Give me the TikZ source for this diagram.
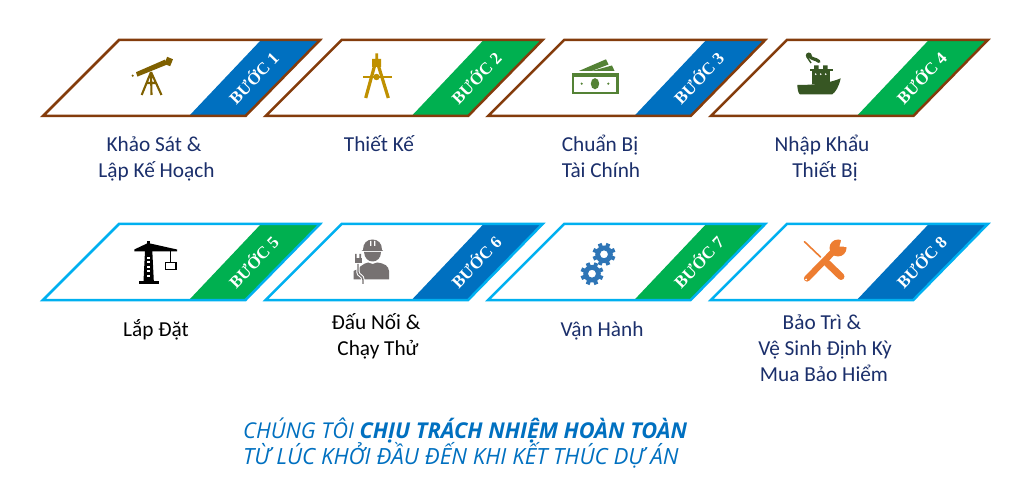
\documentclass[tikz,border=0pt]{standalone}
\usepackage{fontspec}
\setmainfont{Carlito}
\newfontfamily\bandfont{Liberation Serif}
\newfontfamily\noticefont{Open Sans}
\definecolor{brownline}{HTML}{843C0C}
\definecolor{cyanline}{HTML}{00B0F0}
\definecolor{bandblue}{HTML}{0070C0}
\definecolor{bandgreen}{HTML}{00B050}
\definecolor{navytext}{HTML}{1B2F6B}
\definecolor{scopegold}{HTML}{7F6000}
\definecolor{compassgold}{HTML}{BF9000}
\definecolor{moneygreen}{HTML}{548235}
\definecolor{shipgreen}{HTML}{375623}
\definecolor{workergrey}{HTML}{767171}
\definecolor{gearblue}{HTML}{2E75B6}
\definecolor{toolorange}{HTML}{ED7D31}
\newcommand{\stepcard}[6]{% x, top y, line, band, number, name
  \fill[#4] (#1+146,#2+76) -- (#1+218,#2) -- (#1+277,#2) -- (#1+202.5,#2+76) -- cycle;
  \draw[#3,line width=2.5pt,line join=miter] (#1,#2+76) -- (#1+76,#2) -- (#1+277,#2) -- (#1+202.5,#2+76) -- cycle;
  \node[bandtext] (#6) at (#1+210,#2+37.5) {BƯỚC #5};
}
\tikzset{
  bandtext/.style={rotate=46,text=white,inner sep=0pt,font=\bandfont\bfseries\fontsize{17}{17}\selectfont},
  steplabel/.style={anchor=base,inner sep=0pt,font=\fontsize{21.3}{21.3}\selectfont},
  notice/.style={anchor=base west,inner sep=0pt,text=bandblue,font=\noticefont\itshape\fontsize{21.8}{21.8}\selectfont},
}
\begin{document}
\begin{tikzpicture}[x=1pt,y=-1pt]
\useasboundingbox (0,0) rectangle (1024,502);
\fill[white] (0,0) rectangle (1024,502);
\stepcard{43}{40}{brownline}{bandblue}{1}{b1}
\stepcard{265.6}{40}{brownline}{bandgreen}{2}{b2}
\stepcard{488.2}{40}{brownline}{bandblue}{3}{b3}
\stepcard{710.8}{40}{brownline}{bandgreen}{4}{b4}
\stepcard{43}{224}{cyanline}{bandgreen}{5}{b5}
\stepcard{265.6}{224}{cyanline}{bandblue}{6}{b6}
\stepcard{488.2}{224}{cyanline}{bandgreen}{7}{b7}
\stepcard{710.8}{224}{cyanline}{bandblue}{8}{b8}
% labels
\begin{scope}[text=navytext]
\node[steplabel] (l1a) at (154,152) {Khảo Sát \&};
\node[steplabel] (l1b) at (156.5,178) {Lập Kế Hoạch};
\node[steplabel] (l2a) at (379,152) {Thiết Kế};
\node[steplabel] (l3a) at (600,152) {Chuẩn Bị};
\node[steplabel] (l3b) at (601,178) {Tài Chính};
\node[steplabel] (l4a) at (822,152) {Nhập Khẩu};
\node[steplabel] (l4b) at (825,178) {Thiết Bị};
\node[steplabel] (l7a) at (602,336) {Vận Hành};
\node[steplabel] (l8a) at (822,329) {Bảo Trì \&};
\node[steplabel] (l8b) at (825,355) {Vệ Sinh Định Kỳ};
\node[steplabel] (l8c) at (824,381) {Mua Bảo Hiểm};
\end{scope}
\begin{scope}[text=black]
\node[steplabel] (l5a) at (156,336) {Lắp Đặt};
\node[steplabel] (l6a) at (376,329) {Đấu Nối \&};
\node[steplabel] (l6b) at (378,355) {Chạy Thử};
\end{scope}
\node[notice] (n1) at (243,438) {CHÚNG TÔI \textbf{CHỊU TRÁCH NHIỆM HOÀN TOÀN}};
\node[notice,font=\noticefont\itshape\fontsize{22.3}{22.3}\selectfont] (n2) at (243,464) {TỪ LÚC KHỞI ĐẦU ĐẾN KHI KẾT THÚC DỰ ÁN};
% telescope
\fill[scopegold] (136,72.2) -- (165,59.6) -- (167,64.6) -- (137.4,76.6) -- cycle;
\fill[scopegold,rotate around={-22:(168.5,61.5)}] (165.5,57.7) rectangle (171.8,65.3);
\fill[scopegold] (132.7,75.7) circle (1.2);
\draw[scopegold,line width=2.1pt] (151,72) -- (141.7,95) (151,72) -- (161.5,95) (151,72) -- (151.5,95) (146,83) -- (156.5,83);
% compass
\fill[compassgold] (375.3,53.5) rectangle (378.1,60) (372,59) rectangle (381,67);
\draw[compassgold,line width=3.2pt] (374.5,66) -- (365.7,98) (378.5,66) -- (388.3,98);
\draw[compassgold,line width=2pt] (363,76.7) -- (391.7,76.7);
\fill[compassgold] (376.5,77) circle (3.2);
% money
\fill[moneygreen] (571.7,73.3) rectangle (618.5,94.5);
\fill[white] (574.3,76.7) rectangle (615.9,91.8);
\fill[moneygreen] (595,83.7) ellipse (4.2 and 5.6) (581.7,83.7) circle (1.2) (608.3,83.7) circle (1.2);
\fill[moneygreen] (579,70.9) -- (606,59.3) -- (608.5,64.5) -- (592,70.9) -- cycle;
\fill[moneygreen] (592,70.9) -- (612,65.5) -- (614.5,70.9) -- cycle;
% ship
\fill[shipgreen] (797.3,85) .. controls (815,85) and (830,83) .. (840.7,78.3) .. controls (839,86) and (836,92) .. (832,94.5) -- (800,94.5) .. controls (798,93) and (797.5,89) .. (797.3,85) -- cycle;
\fill[shipgreen] (811.5,70) rectangle (830,84);
\fill[shipgreen] (810,69) rectangle (833,71.5);
\fill[shipgreen] (814,65.5) rectangle (818.5,70) (823,65.5) rectangle (827.5,70);
\fill[white] (815.7,74.2) circle (0.95) (820.7,74.2) circle (0.95) (825.7,74.2) circle (0.95);
\fill[shipgreen] (808.8,55.5) circle (3);
\draw[shipgreen,line width=3.2pt,line cap=round] (809,55.5) .. controls (812,60) and (815,58) .. (819,61.5);
\draw[shipgreen,line width=1.4pt] (807,57) -- (811,63);
% crane
\fill[black] (147.2,241) rectangle (149.8,247);
\fill[black] (134.3,249.5) -- (148,243) -- (177,249.5) -- (177,251.5) -- (134.3,251.5) -- cycle;
\fill[black] (145,251) -- (152.3,251) -- (153.8,281) -- (143.5,281) -- cycle;
\foreach \ly in {257,261.5,266,270.5,275}{\fill[white] (147,\ly) rectangle (150.3,\ly+1.8);}
\fill[black] (138.5,281) rectangle (159,284);
\fill[black] (169.5,251) rectangle (170.7,262);
\draw[black,line width=1.8pt] (165.5,262.5) rectangle (176,269.5);
% worker
\fill[workergrey] (353.5,279.5) -- (353.5,271) .. controls (357,271) and (358,268) .. (361,266) .. controls (363,264) and (366,263) .. (368,262.5) -- (372.5,264) -- (377,262.5) .. controls (385,263.5) and (388.5,266) .. (389,271) -- (389,279.5) -- cycle;
\fill[workergrey] (364,252) -- (381,252) .. controls (381,258) and (377,261.5) .. (372.5,261.5) .. controls (368,261.5) and (364.5,258) .. (364,252) -- cycle;
\fill[workergrey] (361.5,251) -- (363,250) .. controls (363,243) and (367,239.5) .. (372.5,239.5) .. controls (378,239.5) and (382,243) .. (382,250) -- (383,251) -- cycle;
\fill[white] (370,241) rectangle (371.3,246) (374,241) rectangle (375.3,246);
\draw[white,line width=3.4pt] (358,262) -- (358,272) .. controls (358,276) and (363,275) .. (363,280) -- (363,285);
\draw[workergrey,line width=1.4pt] (358,264) -- (358,272) .. controls (358,276) and (363,275) .. (363,280) -- (363,284);
\fill[workergrey] (354.5,258) rectangle (361.5,263);
\fill[workergrey] (355,254) rectangle (356.6,258.5) (359.4,254) rectangle (361,258.5);
% gears
\foreach \gx/\gy in {604/254.3,592/273.7}{
  \foreach \ga in {0,45,...,315}{
    \fill[gearblue,shift={(\gx,\gy)},rotate=\ga+22.5] (-2,-11.5) rectangle (2,-7);
  }
  \fill[gearblue,even odd rule] (\gx,\gy) circle (8.8) (\gx,\gy) circle (4);
}
% tools
\draw[toolorange,line width=7pt,line cap=round] (841,276.5) -- (827,263);
\draw[toolorange,line width=1.6pt,line cap=round] (804.5,241.7) -- (820.5,257);
\draw[toolorange,line width=6.2pt,line cap=round] (807,278.5) -- (835,250);
\fill[toolorange] (838,248) circle (8.5);
\fill[white] (839.5,246.5) -- (841.5,239) -- (848.5,239) -- (848.5,247) -- cycle;
\fill[white] (806,279.5) circle (1);
\end{tikzpicture}
\end{document}
